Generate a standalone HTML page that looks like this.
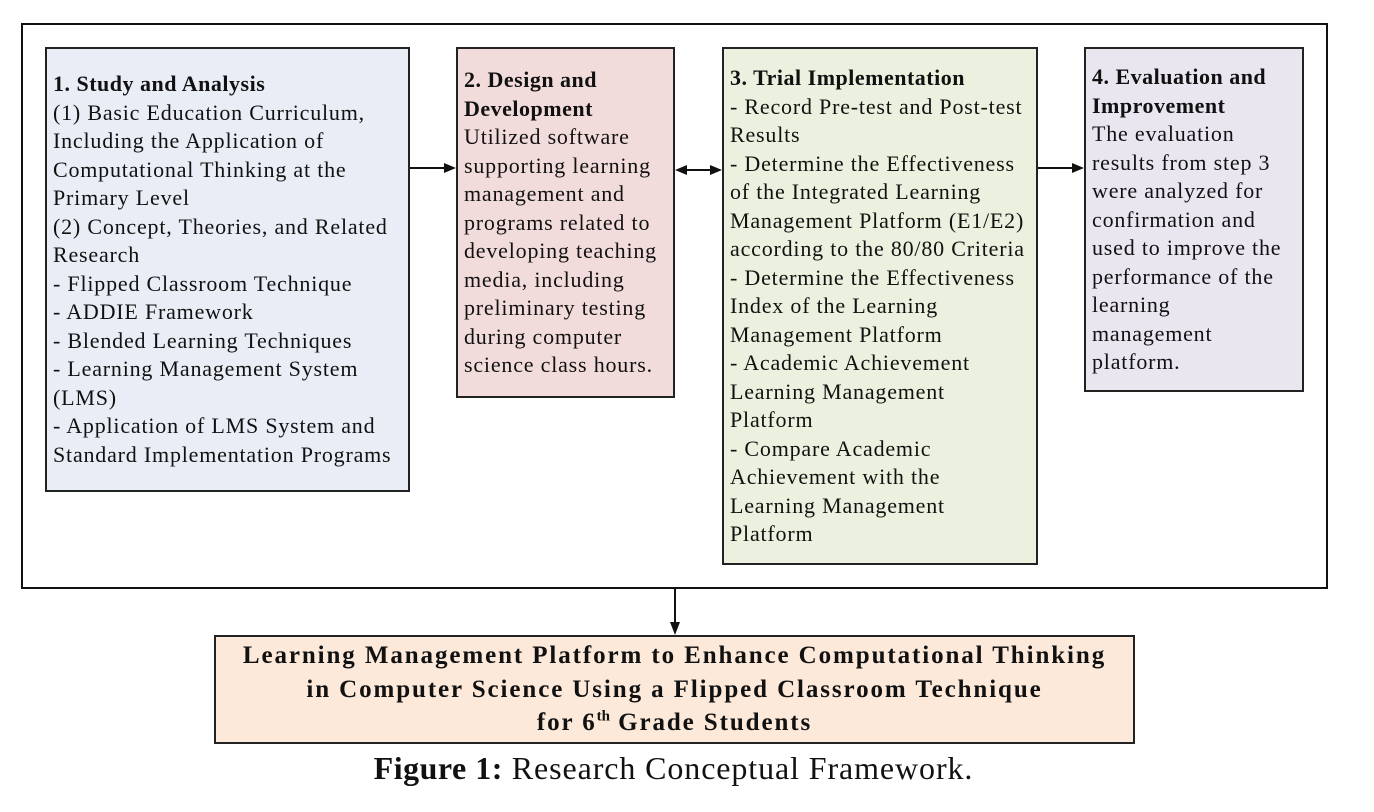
<!DOCTYPE html>
<html><head><meta charset="utf-8"><style>
body{margin:0;width:1374px;height:812px;background:#fff;position:relative;font-family:"Liberation Serif",serif;color:#111;overflow:hidden}
.b{position:absolute;border:2px solid #222;box-sizing:border-box;font-size:22px;letter-spacing:0.8px;line-height:28.5px;padding-left:6px;white-space:nowrap}
b{font-weight:bold;letter-spacing:0.5px}
</style></head><body>
<div style="position:absolute;left:21px;top:23px;width:1307px;height:566px;border:2px solid #111;box-sizing:border-box"></div>
<div class="b" style="left:45px;top:47px;width:365px;height:445px;background:#e9eef6;padding-top:21px"><b>1. Study and Analysis</b><br>(1) Basic Education Curriculum,<br>Including the Application of<br>Computational Thinking at the<br>Primary Level<br>(2) Concept, Theories, and Related<br>Research<br>- Flipped Classroom Technique<br>- ADDIE Framework<br>- Blended Learning Techniques<br>- Learning Management System<br>(LMS)<br>- Application of LMS System and<br>Standard Implementation Programs</div>
<div class="b" style="left:456px;top:47px;width:219px;height:351px;background:#f2dcdb;padding-top:17px"><b>2. Design and<br>Development</b><br>Utilized software<br>supporting learning<br>management and<br>programs related to<br>developing teaching<br>media, including<br>preliminary testing<br>during computer<br>science class hours.</div>
<div class="b" style="left:722px;top:47px;width:316px;height:518px;background:#ebf1de;padding-top:15px"><b>3. Trial Implementation</b><br>- Record Pre-test and Post-test<br>Results<br>- Determine the Effectiveness<br>of the Integrated Learning<br>Management Platform (E1/E2)<br>according to the 80/80 Criteria<br>- Determine the Effectiveness<br>Index of the Learning<br>Management Platform<br>- Academic Achievement<br>Learning Management<br>Platform<br>- Compare Academic<br>Achievement with the<br>Learning Management<br>Platform</div>
<div class="b" style="left:1084px;top:47px;width:220px;height:345px;background:#e9e6f0;padding-top:14px"><b>4. Evaluation and<br>Improvement</b><br>The evaluation<br>results from step 3<br>were analyzed for<br>confirmation and<br>used to improve the<br>performance of the<br>learning<br>management<br>platform.</div>
<div class="b" style="left:214px;top:635px;width:921px;height:109px;background:#fce9da;padding:2px 0 0 0;text-align:center;font-weight:bold;font-size:25px;letter-spacing:1.9px;line-height:33.5px">Learning Management Platform to Enhance Computational Thinking<br>in Computer Science Using a Flipped Classroom Technique<br>for 6<sup style="font-size:15px;line-height:0;letter-spacing:0">th</sup> Grade Students</div>
<div style="position:absolute;left:0;width:1347px;top:750px;text-align:center;font-size:32px;letter-spacing:0.9px"><b>Figure 1:</b> Research Conceptual Framework.</div>
<svg width="1374" height="812" style="position:absolute;left:0;top:0">
<g stroke="#111" stroke-width="2" fill="#111">
<line x1="410" y1="168" x2="446" y2="168"/><polygon points="456,168 444,163 444,173" stroke="none"/>
<line x1="685" y1="170" x2="712" y2="170"/><polygon points="675,170 687,165 687,175" stroke="none"/><polygon points="722,170 710,165 710,175" stroke="none"/>
<line x1="1038" y1="168" x2="1074" y2="168"/><polygon points="1084,168 1072,163 1072,173" stroke="none"/>
<line x1="675" y1="589" x2="675" y2="624"/><polygon points="675,635 670,622 680,622" stroke="none"/>
</g></svg>
</body></html>
